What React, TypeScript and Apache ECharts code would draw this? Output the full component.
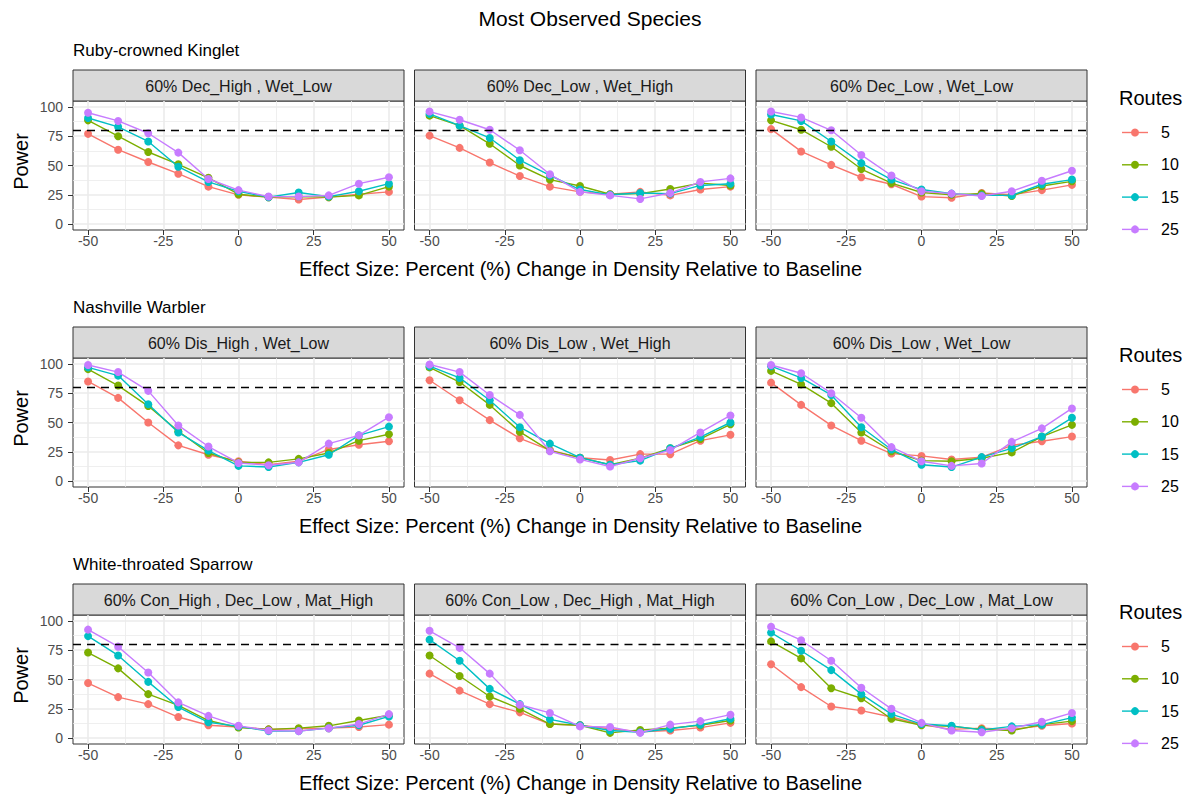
import React, { useEffect, useRef } from "react";
import * as echarts from "echarts";

const EFFECT = [-50, -40, -30, -20, -10, 0, 10, 20, 30, 40, 50];
const ROUTES = ["5", "10", "15", "25"];
const COLORS = ["#F8766D", "#7CAE00", "#00BFC4", "#C77CFF"];
const X_BREAKS = [-50, -25, 0, 25, 50];
const X_MINOR = [-37.5, -12.5, 12.5, 37.5];
const Y_BREAKS = [0, 25, 50, 75, 100];
const Y_MINOR = [12.5, 37.5, 62.5, 87.5];
const THRESHOLD = 80;

const SPECIES = ["Ruby-crowned Kinglet", "Nashville Warbler", "White-throated Sparrow"];
const STRIPS = [
  ["60% Dec_High , Wet_Low", "60% Dec_Low , Wet_High", "60% Dec_Low , Wet_Low"],
  ["60% Dis_High , Wet_Low", "60% Dis_Low , Wet_High", "60% Dis_Low , Wet_Low"],
  ["60% Con_High , Dec_Low , Mat_High", "60% Con_Low , Dec_High , Mat_High", "60% Con_Low , Dec_Low , Mat_Low"],
];

// Power values per panel, rows = routes 5, 10, 15, 25
const rckDecHighWetLow = [
  [77, 63.5, 53, 43, 32, 25, 23, 21, 23, 25.5, 27.5],
  [88.5, 75, 61.5, 51, 39.5, 25.5, 23, 23.5, 23, 24.5, 32],
  [90.5, 83, 70.5, 49, 36, 28, 23, 27, 23.5, 28, 34.5],
  [95, 88, 77.5, 61, 38.5, 29, 23.5, 23.5, 24.5, 34.5, 40],
];
const rckDecLowWetHigh = [
  [75.5, 65, 52.5, 41, 32, 27.5, 25.5, 27.5, 24.5, 29.5, 32],
  [92.5, 84, 68.5, 50, 38, 32.5, 25.5, 26, 30, 35, 33],
  [94, 84, 73.5, 54.5, 41.5, 29.5, 25, 26.5, 26, 33, 34.5],
  [96, 89, 80.5, 63, 42.5, 27.5, 24.5, 21.5, 26.5, 36, 39],
];
const rckDecLowWetLow = [
  [81, 62, 50.5, 40, 34, 23.5, 22.5, 26.5, 25, 29, 33.5],
  [88.5, 80.5, 66, 47, 35, 27, 25, 26, 24, 32.5, 36.5],
  [93.5, 88, 70.5, 52, 38, 29.5, 26, 24.5, 24.5, 34, 38],
  [96, 91, 80, 59, 41.5, 28, 26, 24, 28, 37, 45.5],
];
const nawaDisHighWetLow = [
  [85, 71, 50, 30.5, 22.5, 17, 14, 17, 27, 31, 34],
  [95.5, 81.5, 64, 42.5, 24, 16, 16, 19, 24, 34.5, 40],
  [97, 90, 65.5, 41.5, 26, 13, 12, 16, 22.5, 39, 46.5],
  [99, 93, 77, 47.5, 29.5, 15.5, 13.5, 16, 32, 39, 54.5],
];
const nawaDisLowWetHigh = [
  [86, 69, 52, 36.5, 26.5, 20, 18, 23, 23, 34.5, 39.5],
  [97, 84.5, 65, 42, 26, 20, 14, 19.5, 28, 36, 48.5],
  [98, 88, 69, 46, 32, 20, 14, 17.5, 28, 37.5, 50],
  [99.5, 93, 73.5, 56.5, 25.5, 18.5, 12.5, 19.5, 26.5, 41.5, 56],
];
const nawaDisLowWetLow = [
  [84, 65, 47.5, 34.5, 23.5, 21.5, 18.5, 20.5, 30.5, 34, 38],
  [94, 82.5, 66.5, 41.5, 25.5, 17.5, 17, 19.5, 24.5, 38, 48],
  [98, 88, 73.5, 46, 27, 14, 12, 20.5, 28, 38, 54],
  [99, 92, 75, 54, 29, 17, 13, 15, 33.5, 45, 62],
];
const wtspConHighDecLowMatHigh = [
  [47, 35, 29, 18, 11, 9.5, 7.5, 8, 8.5, 9.5, 11.5],
  [73, 59.5, 37.5, 28, 15, 9, 7.5, 8.5, 10.5, 15, 19.5],
  [87, 70.5, 48, 26.5, 13.5, 10, 6, 6, 8.5, 11, 18.5],
  [92.5, 78, 56, 30.5, 19, 10.5, 6.5, 6, 8.5, 12, 20.5],
];
const wtspConLowDecHighMatHigh = [
  [55, 40.5, 29, 22, 12, 11, 8, 5.5, 6.5, 9, 13],
  [70.5, 53, 35.5, 25, 12, 11, 4.5, 7, 8.5, 11, 15],
  [84, 66, 42, 29, 16, 11, 6.5, 5, 8, 11.5, 16.5],
  [91.5, 77, 55, 28.5, 21.5, 10, 9.5, 4.5, 11.5, 14.5, 20],
];
const wtspConLowDecLowMatLow = [
  [63, 43.5, 27, 23.5, 18, 11.5, 7.5, 8.5, 7.5, 10.5, 12.5],
  [82.5, 68, 42.5, 34, 16.5, 11, 10, 7.5, 6.5, 11.5, 14.5],
  [90, 74.5, 58, 37.5, 20.5, 12, 10.5, 7, 10, 11.5, 17.5],
  [95, 83.5, 66, 43, 25, 13, 6.5, 5, 8.5, 14, 21.5],
];

const PANELS = [
  [rckDecHighWetLow, rckDecLowWetHigh, rckDecLowWetLow],
  [nawaDisHighWetLow, nawaDisLowWetHigh, nawaDisLowWetLow],
  [wtspConHighDecLowMatHigh, wtspConLowDecHighMatHigh, wtspConLowDecLowMatLow],
];

const FONT = "'Liberation Sans', Arial, Helvetica, sans-serif";
const PANEL_LEFT = [73, 414.5, 756];
const PANEL_W = 331;
const PANEL_H = 129;
const STRIP_H = 31;
const ROW_OFFSET = 257;
const PANEL_TOP0 = 101;

export default function App() {
  const ref = useRef<HTMLDivElement>(null);

  useEffect(() => {
    if (!ref.current) return;
    const chart = echarts.init(ref.current, null, { renderer: "svg" });

    const grids: any[] = [];
    const xAxes: any[] = [];
    const yAxes: any[] = [];
    const series: any[] = [];
    const graphic: any[] = [];

    graphic.push({
      type: "text",
      x: 590,
      y: 18,
      style: { text: "Most Observed Species", fontSize: 21, fill: "#000", align: "center", verticalAlign: "middle", fontFamily: FONT },
    });

    for (let r = 0; r < 3; r++) {
      const top = PANEL_TOP0 + r * ROW_OFFSET;
      const stripTop = top - STRIP_H;
      graphic.push({
        type: "text",
        x: 73,
        y: stripTop - 20,
        style: { text: SPECIES[r], fontSize: 17, fill: "#000", align: "left", verticalAlign: "middle", fontFamily: FONT },
      });
      graphic.push({
        type: "text",
        x: 580.5,
        y: top + 168,
        style: {
          text: "Effect Size: Percent (%) Change in Density Relative to Baseline",
          fontSize: 20,
          fill: "#000",
          align: "center",
          verticalAlign: "middle",
          fontFamily: FONT,
        },
      });
      graphic.push({
        type: "text",
        x: 21,
        y: top + PANEL_H / 2 - 4,
        rotation: Math.PI / 2,
        style: { text: "Power", fontSize: 20, fill: "#000", align: "center", verticalAlign: "middle", fontFamily: FONT },
      });
      // legend
      graphic.push({
        type: "text",
        x: 1119,
        y: top - 3.5,
        style: { text: "Routes", fontSize: 20, fill: "#000", align: "left", verticalAlign: "middle", fontFamily: FONT },
      });
      ROUTES.forEach((name, i) => {
        const ly = top + 31.5 + i * 32.3;
        graphic.push({
          type: "line",
          shape: { x1: 1122, y1: ly, x2: 1148, y2: ly },
          style: { stroke: COLORS[i], lineWidth: 1.4 },
        });
        graphic.push({
          type: "circle",
          shape: { cx: 1135, cy: ly, r: 4 },
          style: { fill: COLORS[i] },
        });
        graphic.push({
          type: "text",
          x: 1161,
          y: ly,
          style: { text: name, fontSize: 16, fill: "#000", align: "left", verticalAlign: "middle", fontFamily: FONT },
        });
      });

      for (let c = 0; c < 3; c++) {
        const g = r * 3 + c;
        const left = PANEL_LEFT[c];
        grids.push({
          left,
          top,
          width: PANEL_W,
          height: PANEL_H,
          show: true,
          backgroundColor: "#fff",
          borderColor: "#333333",
          borderWidth: 1,
        });
        graphic.push({
          type: "rect",
          shape: { x: left, y: stripTop, width: PANEL_W, height: STRIP_H },
          style: { fill: "#D9D9D9", stroke: "#333333", lineWidth: 1 },
        });
        graphic.push({
          type: "text",
          x: left + PANEL_W / 2,
          y: stripTop + STRIP_H / 2 + 0.5,
          style: { text: STRIPS[r][c], fontSize: 16, fill: "#1A1A1A", align: "center", verticalAlign: "middle", fontFamily: FONT },
        });

        xAxes.push({
          type: "value",
          gridIndex: g,
          min: -55,
          max: 55,
          position: "bottom",
          axisLine: { show: false, onZero: false },
          axisTick: { show: true, length: 5, lineStyle: { color: "#333333", width: 1 }, customValues: X_BREAKS },
          axisLabel: { show: true, customValues: X_BREAKS, color: "#4D4D4D", fontSize: 14, margin: 4, fontFamily: FONT },
          splitLine: { show: true, lineStyle: { color: "#EBEBEB", width: 1.6 } },
        });
        xAxes.push({
          type: "value",
          gridIndex: g,
          min: -55,
          max: 55,
          position: "top",
          axisLine: { show: false, onZero: false },
          axisTick: { show: false, customValues: X_MINOR },
          axisLabel: { show: false, customValues: X_MINOR },
          splitLine: { show: true, lineStyle: { color: "#EBEBEB", width: 0.8 } },
        });
        yAxes.push({
          type: "value",
          gridIndex: g,
          min: -5,
          max: 105,
          position: "left",
          axisLine: { show: false, onZero: false },
          axisTick: { show: c === 0, length: 5, lineStyle: { color: "#333333", width: 1 }, customValues: Y_BREAKS },
          axisLabel: { show: c === 0, customValues: Y_BREAKS, color: "#4D4D4D", fontSize: 14, margin: 10, fontFamily: FONT },
          splitLine: { show: true, lineStyle: { color: "#EBEBEB", width: 1.6 } },
        });
        yAxes.push({
          type: "value",
          gridIndex: g,
          min: -5,
          max: 105,
          position: "right",
          axisLine: { show: false, onZero: false },
          axisTick: { show: false, customValues: Y_MINOR },
          axisLabel: { show: false, customValues: Y_MINOR },
          splitLine: { show: true, lineStyle: { color: "#EBEBEB", width: 0.8 } },
        });

        const panel = PANELS[r][c];
        panel.forEach((vals, i) => {
          const s: any = {
            type: "line",
            name: ROUTES[i],
            xAxisIndex: 2 * g,
            yAxisIndex: 2 * g,
            data: EFFECT.map((x, k) => [x, vals[k]]),
            symbol: "circle",
            symbolSize: 8,
            showSymbol: true,
            lineStyle: { color: COLORS[i], width: 1.4 },
            itemStyle: { color: COLORS[i], borderWidth: 0 },
            emphasis: { disabled: true },
            z: 3 + i,
          };
          if (i === 0) {
            s.markLine = {
              silent: true,
              symbol: ["none", "none"],
              label: { show: false },
              lineStyle: { type: [8, 6], color: "#000", width: 1.4 },
              data: [{ yAxis: THRESHOLD }],
              z: 10,
            };
          }
          series.push(s);
        });
      }
    }

    chart.setOption({
      animation: false,
      backgroundColor: "#fff",
      textStyle: { fontFamily: FONT },
      grid: grids,
      xAxis: xAxes,
      yAxis: yAxes,
      series,
      graphic,
    });

    return () => chart.dispose();
  }, []);

  return (
    <div
      ref={ref}
      style={{ position: "fixed", left: 0, top: 0, width: 1189, height: 796, background: "#fff" }}
    />
  );
}
